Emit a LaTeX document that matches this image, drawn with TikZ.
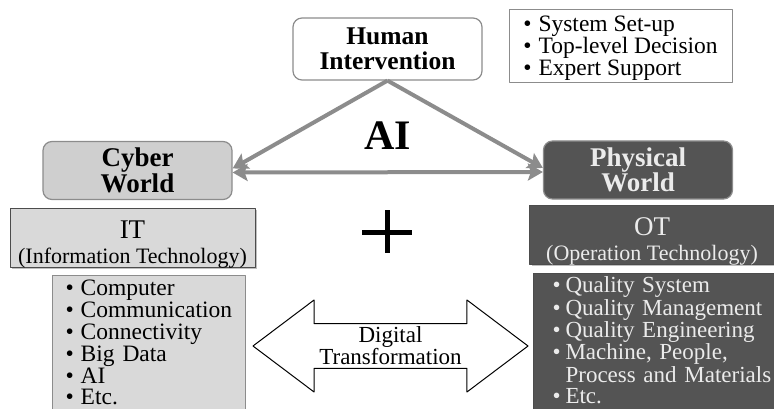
\documentclass[tikz,border=0pt]{standalone}
\usepackage{fontspec}
\setmainfont{Liberation Serif}
\usetikzlibrary{arrows.meta,shapes.arrows,shadows}
\begin{document}
\begin{tikzpicture}[x=1pt,y=-1pt,line join=round,>={Stealth[length=15pt,width=17pt,inset=3pt]},
	world/.style={draw=black!45,rounded corners=9pt,line width=1.2pt,minimum width=189pt,minimum height=58pt,align=center,font=\fontsize{27}{23}\selectfont\bfseries},
	tech/.style={draw=black!70,line width=1pt,minimum width=245pt,minimum height=59pt,font=\fontsize{22}{24.5}\selectfont,drop shadow={shadow xshift=2pt,shadow yshift=-2pt,opacity=.5}},
	items/.style={draw=black!45,line width=1pt,anchor=north west,align=left,font=\fontsize{23.5}{21.3}\selectfont},
	link/.style={draw=black!45,line width=4pt,->}]
	\def\li{\textbullet&}
	% text block lowered inside its box
	\def\low#1#2{\raisebox{-#1}[\height][\depth]{#2}}
	\useasboundingbox (0,0) rectangle (774,409);
	\clip (0,0) rectangle (774,409);
	% top: human and its tasks
	\node[draw=black!45,rounded corners=9pt,line width=1.2pt,minimum width=189pt,minimum height=62pt,align=center,font=\fontsize{25.5}{25}\selectfont\bfseries] (human) at (387.5,49) {Human\\Intervention};
	\node[draw=black!45,line width=1pt,minimum width=223pt,minimum height=72pt,font=\fontsize{23.5}{21.5}\selectfont] (tasks) at (620.5,46) {\low{3pt}{\begin{tabular}{@{}l@{\hspace{7pt}}l@{}}\li System Set-up\\ \li Top-level Decision\\ \li Expert Support\end{tabular}}};
	% the two worlds
	\node[world,fill=black!19] (cyber) at (137.5,170.5) {Cyber\\World};
	\node[world,fill=black!67,text=black!8] (physical) at (638,170) {Physical\\World};
	\node[font=\fontsize{42}{42}\selectfont\bfseries] (ai) at (388,136) {AI};
	\draw[link] (human.south) -- ([yshift=2pt]cyber.east);
	\draw[link] (human.south) -- ([yshift=2pt]physical.west);
	\draw[link,<->] ([yshift=-2pt]cyber.east) -- ([yshift=-2pt]physical.west);
	% IT + OT
	\node[tech,fill=black!15] (it) at (132.5,237.5) {\low{8.5pt}{\begin{tabular}{@{}c@{}}{\fontsize{27}{24.5}\selectfont IT}\\(Information Technology)\end{tabular}}};
	\node[tech,fill=black!67,text=black!8] (ot) at (652,234.5) {\low{8pt}{\begin{tabular}{@{}c@{}}{\fontsize{27}{24.5}\selectfont OT}\\(Operation Technology)\end{tabular}}};
	\draw[line width=5pt] (362,232) -- (412,232) (387,210) -- (387,253);
	% lists
	\node[items,fill=black!15,text width=167pt,inner xsep=13pt,minimum height=140pt] (itlist) at (52,275) {\begin{tabular}{@{}l@{\hspace{7pt}}l@{}}\li Computer\\ \li Communication\\ \li Connectivity\\ \li Big Data\\ \li AI\\ \li Etc.\end{tabular}};
	\node[items,fill=black!67,text=black!8,draw=black!70,text width=228pt,inner xsep=19pt,minimum height=134pt,font=\fontsize{23}{21.3}\selectfont] (otlist) at (533,273) {\begin{tabular}{@{}l@{\hspace{5pt}}l@{}}\li Quality System\\ \li Quality Management\\ \li Quality Engineering\\ \li Machine, People,\\ & Process and Materials\\ \li Etc.\end{tabular}};
	\node[double arrow,draw,fill=white,line width=1pt,double arrow head extend=23pt,double arrow tip angle=74,minimum height=275pt,minimum width=92pt,inner sep=2pt,align=center,font=\fontsize{23}{20}\selectfont] (dt) at (390.5,346) {Digital\\Transformation};
\end{tikzpicture}
\end{document}
